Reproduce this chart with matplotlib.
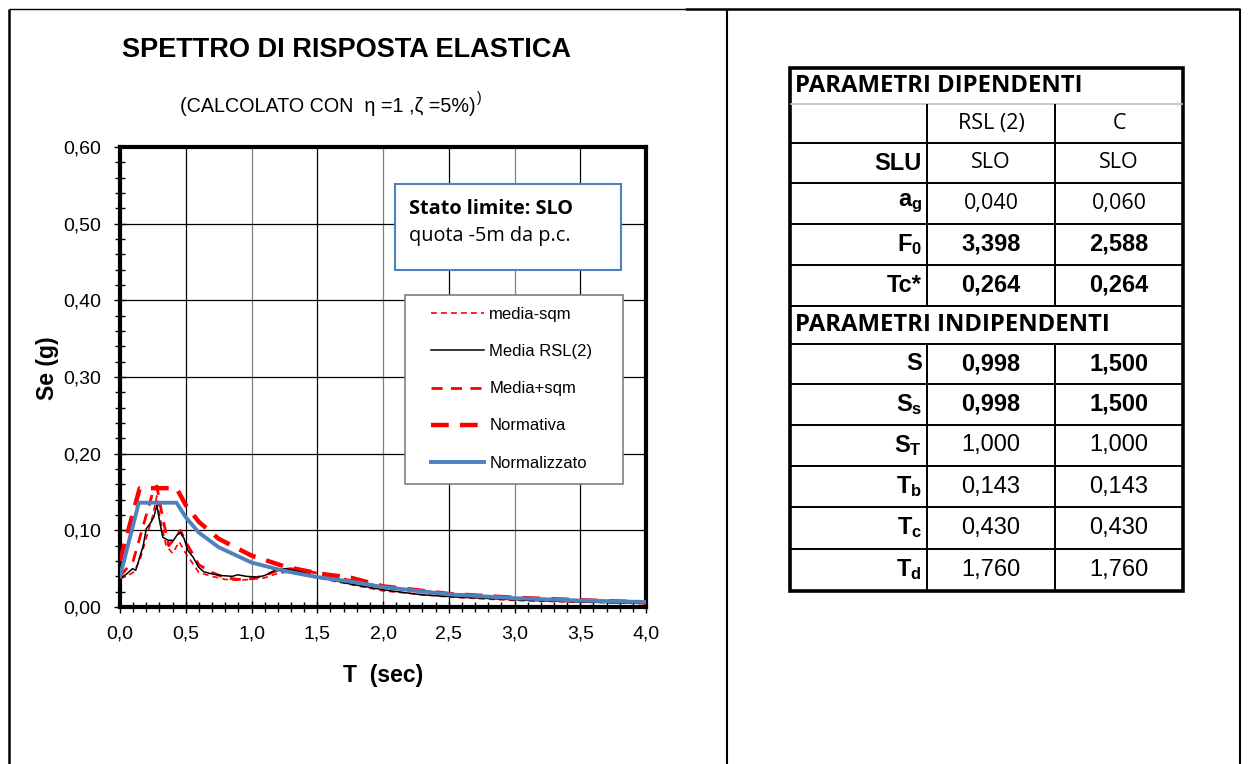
import matplotlib
matplotlib.use("Agg")
import matplotlib.pyplot as plt
from matplotlib.lines import Line2D
from matplotlib.patches import Rectangle
from matplotlib.ticker import MultipleLocator, FuncFormatter

plt.rcParams['font.family'] = ['Liberation Sans', 'DejaVu Sans']
plt.rcParams['mathtext.fontset'] = 'custom'
plt.rcParams['mathtext.rm'] = 'Liberation Sans'
plt.rcParams['mathtext.bf'] = 'Liberation Sans:bold'

# ---------------- spectra data ----------------
T_media = [0.0, 0.05, 0.095, 0.12, 0.15, 0.176, 0.20, 0.23, 0.258, 0.28, 0.30, 0.325,
           0.366, 0.407, 0.434, 0.46, 0.488, 0.515, 0.556, 0.597, 0.637, 0.69, 0.773,
           0.854, 0.895, 0.96, 1.044, 1.10, 1.18, 1.26, 1.37, 1.505, 1.75, 2.02, 2.29,
           2.56, 3.1, 3.51, 4.0]
Se_media = [0.037, 0.043, 0.050, 0.048, 0.065, 0.080, 0.102, 0.109, 0.1175, 0.133, 0.113,
            0.091, 0.087, 0.087, 0.094, 0.097, 0.089, 0.074, 0.065, 0.052, 0.046, 0.0435,
            0.041, 0.040, 0.042, 0.040, 0.039, 0.041, 0.048, 0.050, 0.046, 0.039, 0.030,
            0.022, 0.016, 0.013, 0.0087, 0.0065, 0.005]

T_minus = [0.0, 0.05, 0.10, 0.15, 0.20, 0.25, 0.28, 0.30, 0.35, 0.40, 0.45, 0.50, 0.60,
           0.70, 0.80, 0.90, 1.00, 1.10, 1.20, 1.30, 1.50, 2.00, 2.50, 3.00, 3.50, 4.00]
Se_minus = [0.037, 0.040, 0.045, 0.060, 0.090, 0.120, 0.145, 0.120, 0.080, 0.070, 0.085,
            0.070, 0.045, 0.040, 0.036, 0.035, 0.036, 0.038, 0.044, 0.046, 0.038, 0.021,
            0.013, 0.0085, 0.0062, 0.0048]

T_plus = [0.0, 0.10, 0.15, 0.20, 0.25, 0.28, 0.32, 0.37, 0.42, 0.46, 0.50, 0.55, 0.60,
          0.70, 0.80, 0.90, 1.00, 1.10, 1.20, 1.30, 1.40, 1.60, 2.00, 2.50, 3.00, 3.50, 4.00]
Se_plus = [0.040, 0.060, 0.090, 0.120, 0.150, 0.158, 0.120, 0.080, 0.090, 0.100, 0.085,
           0.070, 0.055, 0.045, 0.038, 0.036, 0.037, 0.041, 0.048, 0.050, 0.048, 0.040,
           0.026, 0.017, 0.011, 0.0080, 0.0060]

T_norm = [0.0, 0.15, 0.43, 0.50, 0.60, 0.75, 1.00, 1.25, 1.50, 1.76, 2.00, 2.50, 3.00,
          3.50, 4.00]
Se_norm = [0.060, 0.155, 0.155, 0.133, 0.111, 0.089, 0.067, 0.053, 0.044, 0.038, 0.027,
           0.017, 0.012, 0.0088, 0.0060]

T_nz = [0.0, 0.143, 0.43, 0.50, 0.60, 0.75, 1.00, 1.25, 1.50, 1.76, 2.00, 2.50, 3.00,
        3.50, 4.00]
Se_nz = [0.040, 0.136, 0.136, 0.117, 0.097, 0.078, 0.058, 0.047, 0.039, 0.033, 0.026,
         0.0165, 0.0115, 0.0084, 0.0065]

series_labels = ["media-sqm", "Media RSL(2)", "Media+sqm", "Normativa", "Normalizzato"]

# ---------------- parameter table data ----------------
col_heads = ["RSL (2)", "C"]
dep_rows = ["SLU", r"$\mathbf{a_g}$", r"$\mathbf{F_0}$", "Tc*"]
dep_rsl = ["SLO", "0,040", "3,398", "0,264"]
dep_c = ["SLO", "0,060", "2,588", "0,264"]
ind_rows = ["S", r"$\mathbf{S_s}$", r"$\mathbf{S_T}$", r"$\mathbf{T_b}$",
            r"$\mathbf{T_c}$", r"$\mathbf{T_d}$"]
ind_rsl = ["0,998", "0,998", "1,000", "0,143", "0,430", "1,760"]
ind_c = ["1,500", "1,500", "1,000", "0,143", "0,430", "1,760"]

W, H = 1248, 764
fig = plt.figure(figsize=(W / 100, H / 100), dpi=100)


def fx(x):
    return x / W


def fy(y):
    return 1 - y / H


# ---------------- page frame ----------------
def fline(x0, y0, x1, y1, lw=1.5, color="black"):
    fig.add_artist(Line2D([fx(x0), fx(x1)], [fy(y0), fy(y1)], lw=lw, color=color,
                          transform=fig.transFigure, solid_capstyle="butt"))


fline(9, 9, 685, 9, lw=1.0)
fline(685, 9, 1240, 9, lw=1.8)
fline(9, 9, 9, 764, lw=1.8)
fline(727, 9, 727, 764, lw=1.5)
fline(1240, 9, 1240, 764, lw=1.5)

# ---------------- chart ----------------
ax = fig.add_axes([fx(120), fy(607), (646 - 120) / W, (607 - 147) / H])
ax.set_xlim(0, 4)
ax.set_ylim(0, 0.6)

red = "#FF0000"
blue = "#4F81BD"
l1, = ax.plot(T_minus, Se_minus, color=red, lw=1.2, dashes=(3.5, 2.5), zorder=3)
l2, = ax.plot(T_media, Se_media, color="black", lw=1.1, zorder=4)
l3, = ax.plot(T_plus, Se_plus, color=red, lw=2.0, dashes=(4, 3), zorder=3)
l4, = ax.plot(T_norm, Se_norm, color=red, lw=3.2, dashes=(4, 2.5), zorder=3)
l5, = ax.plot(T_nz, Se_nz, color=blue, lw=2.8, zorder=5)

ax.xaxis.set_major_locator(MultipleLocator(0.5))
ax.xaxis.set_minor_locator(MultipleLocator(0.1))
ax.yaxis.set_major_locator(MultipleLocator(0.1))
ax.yaxis.set_minor_locator(MultipleLocator(0.02))
ax.xaxis.set_major_formatter(FuncFormatter(lambda v, p: f"{v:.1f}".replace(".", ",")))
ax.yaxis.set_major_formatter(FuncFormatter(lambda v, p: f"{v:.2f}".replace(".", ",")))
ax.tick_params(which="major", direction="inout", length=9, width=1.0, labelsize=14,
               colors="black")
ax.tick_params(which="minor", direction="inout", length=7, width=1.0)
ax.tick_params(axis="x", which="major", pad=9)
ax.tick_params(axis="y", which="major", pad=9)

ax.set_axisbelow(True)
ax.grid(True, which="major", axis="both", color="black", lw=0.9)
for i, gl in enumerate(ax.get_xgridlines()):
    gl.set_color("black" if i % 2 == 0 else "#808080")
for sp in ax.spines.values():
    sp.set_linewidth(3.0)

ax.set_xlabel("T  (sec)", fontsize=16.5, fontweight="bold", labelpad=15)
ax.set_ylabel("Se (g)", fontsize=16.5, fontweight="bold")
ax.yaxis.set_label_coords((59 - 120) / 526, (607 - 368) / 460)

# annotation box
ax.add_patch(Rectangle((fx(395), fy(270)), fx(621 - 395), (270 - 184) / H,
                       transform=fig.transFigure, facecolor="white",
                       edgecolor=blue, lw=1.5, zorder=6))
fig.text(fx(409), fy(209), "Stato limite: SLO", fontsize=14.3, fontweight="bold",
         family=["Open Sans", "DejaVu Sans"], va="center", ha="left", zorder=7)
fig.text(fx(409), fy(236), "quota -5m da p.c.", fontsize=14.3,
         family=["Open Sans", "DejaVu Sans"], va="center", ha="left", zorder=7)

# legend frame and entries
ax.add_patch(Rectangle((fx(405), fy(484)), fx(623 - 405), (484 - 295) / H,
                       transform=fig.transFigure, facecolor="white",
                       edgecolor="#7F7F7F", lw=1.2, zorder=6))
leg = ax.legend([l1, l2, l3, l4, l5], series_labels, loc="upper left",
                bbox_to_anchor=(fx(431), fy(307)), bbox_transform=fig.transFigure,
                frameon=False, fontsize=12, handlelength=3.2, handletextpad=0.3,
                labelspacing=1.33, borderpad=0, borderaxespad=0)
leg.set_zorder(8)

# titles
fig.text(fx(347), fy(50), "SPETTRO DI RISPOSTA ELASTICA", fontsize=19.5,
         fontweight="bold", ha="center", va="center")
sub = fig.text(fx(180), fy(106), "(CALCOLATO CON  η =1 ,ζ =5%)", fontsize=14.2,
               ha="left", va="center")
fig.canvas.draw()
bb = sub.get_window_extent()
fig.text(bb.x1 / W + 0.001, fy(98), ")", fontsize=10, ha="left", va="center")

# ---------------- parameter table ----------------
xs = [790, 927, 1055, 1183]
ys = [68, 104, 143, 183, 224, 265, 306, 344, 384, 425, 466, 507, 549, 591]

# horizontal rules
fline(xs[0], ys[1], xs[3], ys[1], lw=1.2, color="#BFBFBF")
for y in ys[2:-1]:
    fline(xs[0], y, xs[3], y, lw=1.4)
# vertical rules
fline(xs[1], ys[1], xs[1], ys[6], lw=1.4)
fline(xs[2], ys[1], xs[2], ys[6], lw=1.4)
fline(xs[1], ys[7], xs[1], ys[13], lw=1.4)
fline(xs[2], ys[7], xs[2], ys[13], lw=1.4)
# outer border
fig.add_artist(Rectangle((fx(xs[0]), fy(ys[-1])), fx(xs[3] - xs[0]), (ys[-1] - ys[0]) / H,
                         transform=fig.transFigure, fill=False, edgecolor="black",
                         lw=2.6))

calibri = ["Open Sans", "DejaVu Sans"]
c1 = (xs[1] + xs[2]) / 2
c2 = (xs[2] + xs[3]) / 2


def mid(i):
    return (ys[i] + ys[i + 1]) / 2


fig.text(fx(795), fy(mid(0)), "PARAMETRI DIPENDENTI", fontsize=17.2, fontweight="bold",
         family=calibri, ha="left", va="center")
fig.text(fx(c1), fy(mid(1)), col_heads[0], fontsize=15.5, family=calibri,
         ha="center", va="center")
fig.text(fx(c2), fy(mid(1)), col_heads[1], fontsize=15.5, family=calibri,
         ha="center", va="center")

for k in range(4):
    r = 2 + k
    fig.text(fx(xs[1] - 5), fy(mid(r)), dep_rows[k], fontsize=17, fontweight="bold",
             ha="right", va="center")
    for cx, val in ((c1, dep_rsl[k]), (c2, dep_c[k])):
        if k < 2:
            fig.text(fx(cx), fy(mid(r)), val, fontsize=15.5, family=calibri,
                     ha="center", va="center")
        else:
            fig.text(fx(cx), fy(mid(r)), val, fontsize=17, fontweight="bold",
                     ha="center", va="center")

fig.text(fx(795), fy(mid(6)), "PARAMETRI INDIPENDENTI", fontsize=17.2, fontweight="bold",
         family=calibri, ha="left", va="center")

for k in range(6):
    r = 7 + k
    fig.text(fx(xs[1] - 5), fy(mid(r)), ind_rows[k], fontsize=17, fontweight="bold",
             ha="right", va="center")
    for cx, val in ((c1, ind_rsl[k]), (c2, ind_c[k])):
        bold = k < 2
        fig.text(fx(cx), fy(mid(r)), val, fontsize=17,
                 fontweight="bold" if bold else "normal", ha="center", va="center")

fig.savefig("out.png", dpi=100, facecolor="white")
